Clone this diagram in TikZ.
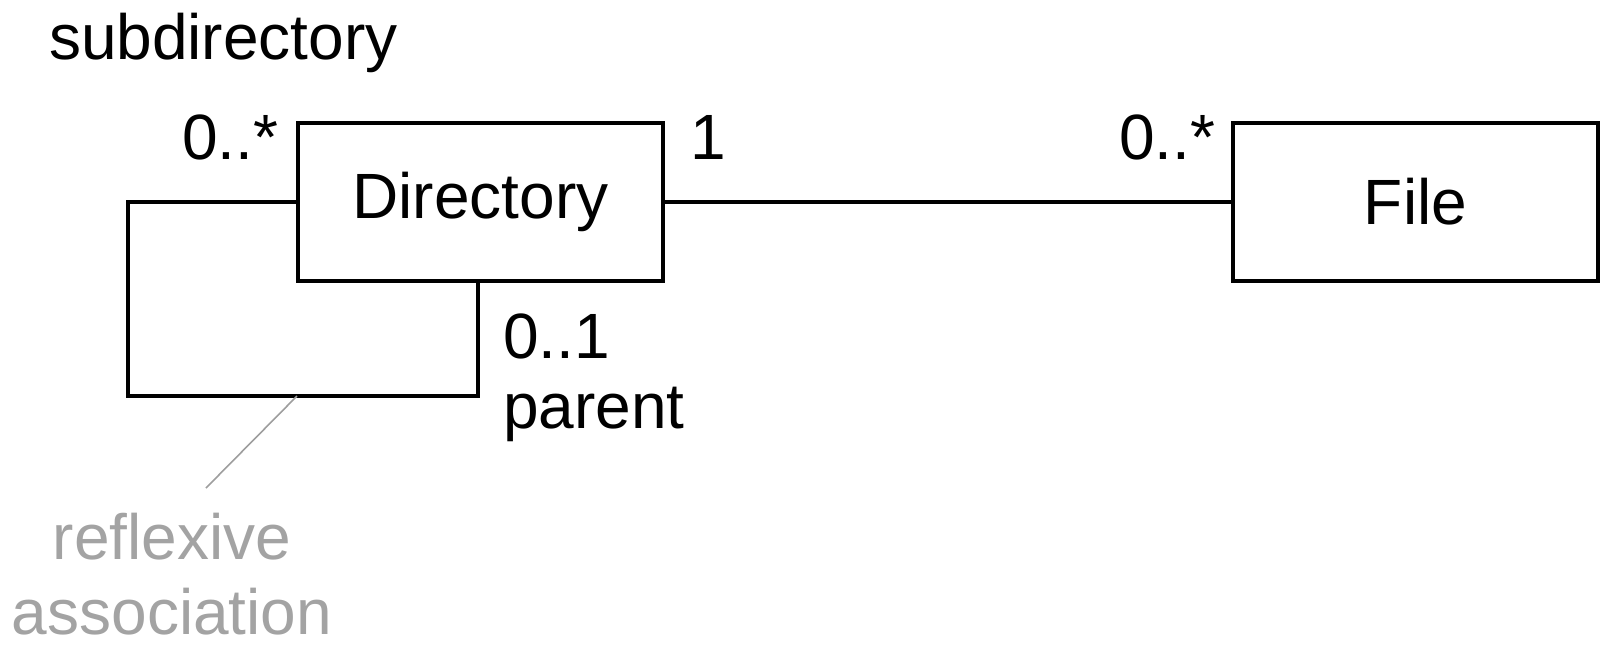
\documentclass[tikz,border=0pt]{standalone}
\usepackage{fontspec}
\setmainfont{Liberation Sans}
\begin{document}
\begin{tikzpicture}[x=0.5pt,y=-0.5pt,
  every node/.style={inner sep=0pt, outer sep=0pt},
  lbl/.style={font=\fontsize{32}{36}\selectfont, anchor=base west},
  classbox/.style={draw, line width=2pt, minimum width=182.5pt, minimum height=79pt,
    font=\fontsize{32}{36}\selectfont},
  assoc/.style={line width=1.6pt, line join=miter},
  notefont/.style={font=\fontsize{32}{37.5}\selectfont, text=black!36, align=center},
  noteline/.style={draw=black!38, line width=0.8pt}]
\useasboundingbox (0,0) rectangle (1604,644);

% classes
\node[classbox] (dir) at (480.5,202) {Directory};
\node[classbox] (file) at (1415.5,202) {File};

% Directory -- File association
\draw[assoc] (dir.east) -- (file.west);

% reflexive association loop
\coordinate (lt) at (128,202);
\coordinate (lb) at (128,396);
\coordinate (rb) at (478,396);
\draw[assoc] (dir.west) -- (lt) -- (lb) -- (rb) -- (rb |- dir.south);

% role names and multiplicities
\node[lbl] (sub) at (49,59) {subdirectory};
\node[lbl] (mleft) at (182,159) {0..*};
\node[lbl] (mone) at (690,159) {1};
\node[lbl] (mfile) at (1119,159) {0..*};
\node[lbl] (mpar) at (503,358) {0..1};
\node[lbl] (par) at (503,428) {parent};

% note
\node[notefont, anchor=base] (note) at (172,634) {reflexive\\association};
\coordinate (na) at (297,396);
\coordinate (nb) at (206,488);
\draw[noteline] (na) -- (nb);
\end{tikzpicture}
\end{document}
